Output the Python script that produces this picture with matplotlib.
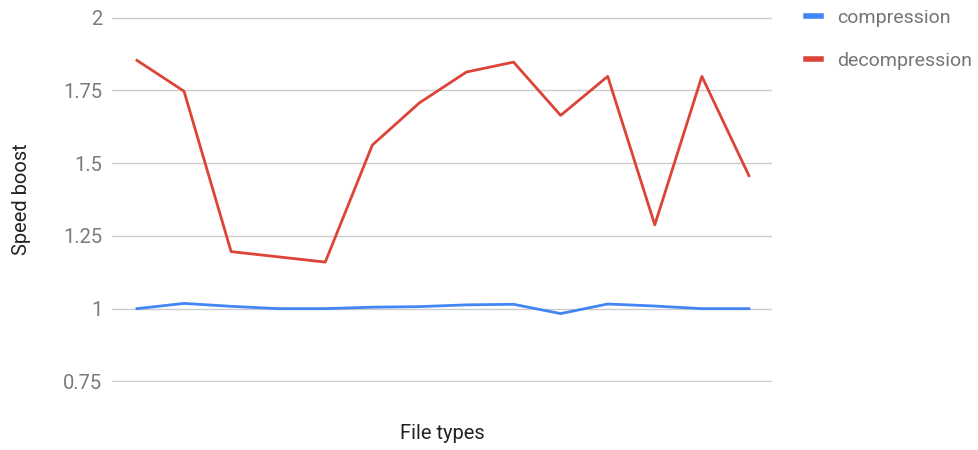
import matplotlib.pyplot as plt
import numpy as np

plt.rcParams['font.family'] = ['Roboto', 'DejaVu Sans']

# speed boost per file type
compression = [1.0, 1.018, 1.008, 1.0, 1.0, 1.005, 1.007, 1.013, 1.015, 0.983, 1.016, 1.009, 1.0, 1.0]
decompression = [1.853, 1.747, 1.196, 1.178, 1.160, 1.562, 1.707, 1.813, 1.847, 1.664, 1.798, 1.288, 1.798, 1.457]
y_ticks = [0.75, 1, 1.25, 1.5, 1.75, 2]
y_labels = ['0.75', '1', '1.25', '1.5', '1.75', '2']

x = np.arange(len(compression))

fig = plt.figure(figsize=(9.79, 4.5), dpi=100)
ax = fig.add_axes([112 / 979, 1 - 382 / 450, 660 / 979, 365 / 450])

ax.plot(x, compression, color='#4285F4', lw=2.0, label='compression', solid_joinstyle='round')
ax.plot(x, decompression, color='#DB4437', lw=2.0, label='decompression', solid_joinstyle='round')

ax.set_xlim(-0.53, 13.49)
ax.set_ylim(0.748, 2.002)
ax.set_yticks(y_ticks)
ax.set_yticklabels(y_labels)
ax.set_xticks([])
ax.grid(axis='y', color='#cccccc', lw=1)
ax.set_axisbelow(True)
for s in ax.spines.values():
    s.set_visible(False)
ax.tick_params(axis='y', length=0, pad=7, labelsize=14.5, labelcolor='#7a7a7a')

ax.set_ylabel('Speed boost', fontsize=14.5, color='#222222')
ax.yaxis.set_label_coords(-0.123, 0.5)
ax.set_xlabel('File types', fontsize=14.5, color='#222222', labelpad=30)

ax.legend(loc='upper left', bbox_to_anchor=(1.025, 1.07), frameon=False,
          fontsize=14, labelcolor='#757575',
          handlelength=0.75, handletextpad=0.85, labelspacing=1.3)
leg = ax.get_legend()
for h in leg.get_lines():
    h.set_linewidth(4)

plt.savefig('out.png', dpi=100)
